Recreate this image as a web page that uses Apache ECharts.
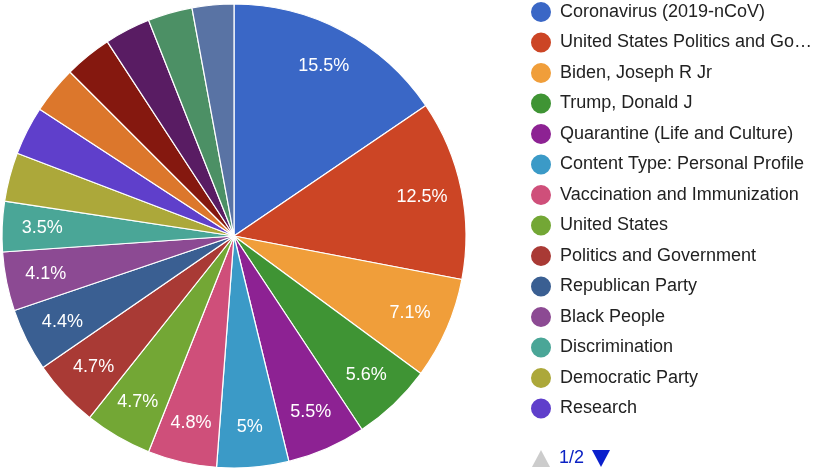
<!DOCTYPE html>
<html>
<head>
<meta charset="utf-8">
<script src="https://cdn.jsdelivr.net/npm/echarts@6/dist/echarts.min.js"></script>
<style>
  html, body { margin: 0; padding: 0; background: #fff; }
  #chart { width: 826px; height: 471px; }
</style>
</head>
<body>
<div id="chart"></div>
<script>
const categories = [
  "Coronavirus (2019-nCoV)",
  "United States Politics and Government",
  "Biden, Joseph R Jr",
  "Trump, Donald J",
  "Quarantine (Life and Culture)",
  "Content Type: Personal Profile",
  "Vaccination and Immunization",
  "United States",
  "Politics and Government",
  "Republican Party",
  "Black People",
  "Discrimination",
  "Democratic Party",
  "Research",
  "Presidential Election of 2020",
  "Police Brutality, Misconduct and Shootings",
  "Shutdowns (Institutional)",
  "Economic Conditions and Trends",
  "Education (K-12)"
];
const shares = [15.5, 12.5, 7.1, 5.6, 5.5, 5, 4.8, 4.7, 4.7, 4.4, 4.1, 3.5, 3.4, 3.4, 3.3, 3.3, 3.2, 3.1, 2.9];
const colors = [
  "#3a67c6", "#cc4525", "#f09e3a", "#3f9434", "#8d2293", "#3b9ac7", "#cf4f7a",
  "#73a735", "#a93a35", "#3a5f92", "#8c4a93", "#4aa697", "#aca83a", "#5f3fcb",
  "#dc772c", "#85180f", "#591c63", "#4c9065", "#5973a4"
];
const legendPage = "1/2";
const labelThreshold = 3.5;

const data = categories.map((n, i) => ({ name: n, value: shares[i] }));
const FONT = 'Liberation Sans, Arial, sans-serif';

const chart = echarts.init(document.getElementById('chart'), null, { renderer: 'canvas' });
chart.setOption({
  animation: false,
  color: colors,
  legend: {
    type: 'plain',
    orient: 'vertical',
    left: 529,
    top: 0,
    padding: 0,
    data: categories.slice(0, 14),
    icon: 'circle',
    itemWidth: 22,
    itemHeight: 22,
    itemGap: 6.5,
    selectedMode: false,
    textStyle: {
      fontFamily: FONT,
      fontSize: 18,
      lineHeight: 18,
      color: '#222',
      padding: [0, 0, 0, 3],
      width: 260,
      overflow: 'truncate',
      ellipsis: '…'
    }
  },
  graphic: [
    { type: 'polygon', shape: { points: [[532, 467], [550, 467], [541, 450]] }, style: { fill: '#cccccc' } },
    { type: 'text', left: 559, top: 449, style: { text: legendPage, fill: '#0b22c4', fontSize: 18, fontFamily: FONT } },
    { type: 'polygon', shape: { points: [[592, 450], [610, 450], [601, 467]] }, style: { fill: '#0a1fcc' } }
  ],
  series: [
    {
      type: 'pie',
      center: [234, 236],
      radius: [0, 232],
      startAngle: 90,
      clockwise: true,
      avoidLabelOverlap: false,
      silent: true,
      itemStyle: { borderColor: '#ffffff', borderWidth: 1.2 },
      label: { show: false },
      labelLine: { show: false },
      emphasis: { disabled: true },
      data: data
    },
    {
      type: 'pie',
      center: [234, 236],
      radius: [146, 232],
      startAngle: 90,
      clockwise: true,
      avoidLabelOverlap: false,
      silent: true,
      itemStyle: { color: 'rgba(0,0,0,0)', borderWidth: 0 },
      label: {
        show: true,
        position: 'inside',
        color: '#ffffff',
        fontSize: 18,
        fontFamily: FONT,
        formatter: p => (p.value >= labelThreshold ? p.value + '%' : '')
      },
      labelLine: { show: false },
      emphasis: { disabled: true },
      data: data
    }
  ]
});
</script>
</body>
</html>
